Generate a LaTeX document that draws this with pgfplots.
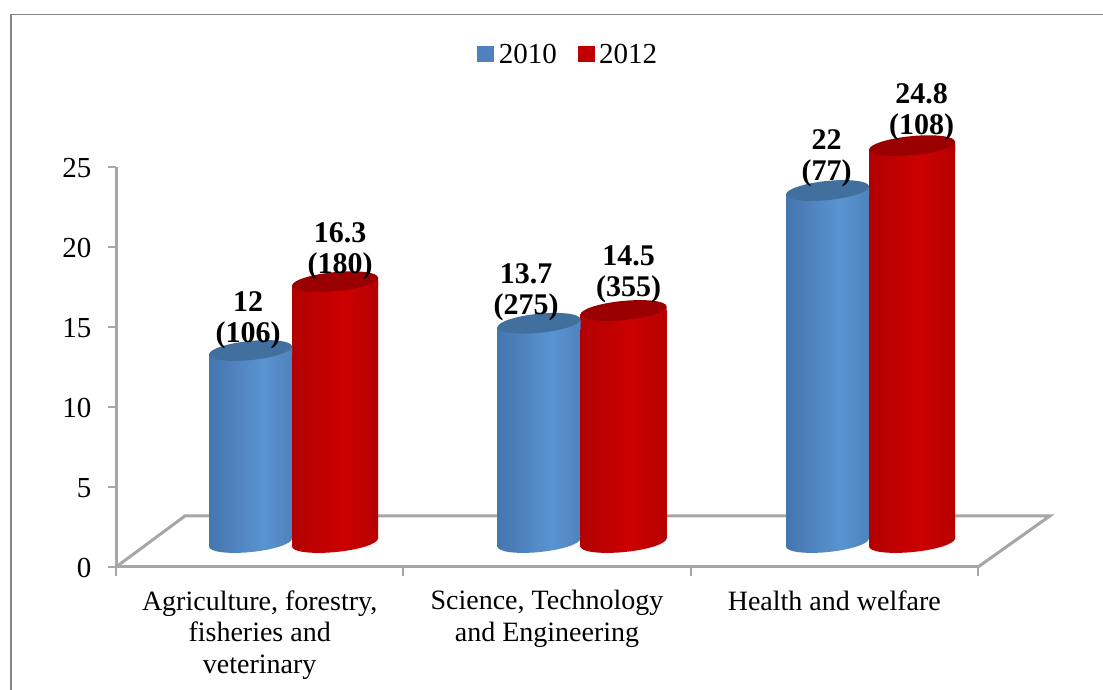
\documentclass[border=0pt]{standalone}
\usepackage{pgfplots}
\pgfplotsset{compat=1.18}
\usepackage{fontspec}
\setmainfont{Liberation Serif}
\definecolor{axgray}{HTML}{A6A6A6}
\definecolor{framegray}{HTML}{868686}
\definecolor{capblue}{HTML}{41709F}
\definecolor{capred}{HTML}{9A0000}
\definecolor{legblue}{HTML}{4F81BD}
\definecolor{legred}{HTML}{C00000}
\definecolor{b0}{HTML}{33598A}
\definecolor{b1}{HTML}{4373AB}
\definecolor{b2}{HTML}{5A93D2}
\definecolor{b3}{HTML}{4A7CB3}
\definecolor{b4}{HTML}{345C88}
\definecolor{r0}{HTML}{6A0000}
\definecolor{r1}{HTML}{AE0000}
\definecolor{r2}{HTML}{CC0000}
\definecolor{r3}{HTML}{B00000}
\definecolor{r4}{HTML}{680000}
\pgfdeclarehorizontalshading{bluecyl}{100bp}{color(0bp)=(b0); color(22bp)=(b1); color(58bp)=(b2); color(82bp)=(b3); color(100bp)=(b4)}
\pgfdeclarehorizontalshading{redcyl}{100bp}{color(0bp)=(r0); color(20bp)=(r1); color(55bp)=(r2); color(80bp)=(r3); color(100bp)=(r4)}
% cylinder ends. #1 left edge, #2 right edge relative to the data point
\newcommand{\cyltop}[3]{%
  \pgfsetfillcolor{white}%
  \pgfpathrectanglecorners{\pgfpoint{#1-1pt}{-4pt}}{\pgfpoint{#1+25pt}{1pt}}\pgfusepathqfill
  \pgfpathmoveto{\pgfpoint{#1}{-4pt}}\pgfpathlineto{\pgfpoint{#2}{4pt}}\pgfpathlineto{\pgfpoint{#2}{-6pt}}\pgfpathlineto{\pgfpoint{#1}{-6pt}}\pgfpathclose
  \pgfshadepath{#3cyl}{0}\pgfusepath{discard}%
  \pgfpathellipse{\pgfpoint{(#1+#2)/2}{0pt}}{\pgfpoint{(#2-#1)/2}{4pt}}{\pgfpoint{0pt}{9.6pt}}%
  \pgfsetfillcolor{cap#3}\pgfusepathqfill}
\newcommand{\cylbot}[3]{%
  \pgfsetfillcolor{white}%
  \pgfpathrectanglecorners{\pgfpoint{#2-25pt}{-1pt}}{\pgfpoint{#2+1pt}{4pt}}\pgfusepathqfill
  \pgfpathmoveto{\pgfpoint{#1}{-4pt}}\pgfpathlineto{\pgfpoint{#2}{4pt}}\pgfpathlineto{\pgfpoint{#2}{6pt}}\pgfpathlineto{\pgfpoint{#1}{6pt}}\pgfpathclose
  \pgfshadepath{#3cyl}{0}\pgfusepath{discard}%
  \pgfpathellipse{\pgfpoint{(#1+#2)/2}{0pt}}{\pgfpoint{(#2-#1)/2}{4pt}}{\pgfpoint{0pt}{9.6pt}}%
  \pgfshadepath{#3cyl}{0}\pgfusepath{discard}}
\pgfdeclareplotmark{bluetop}{\cyltop{-83pt}{0pt}{blue}}
\pgfdeclareplotmark{redtop}{\cyltop{0pt}{86pt}{red}}
\pgfdeclareplotmark{bluebot}{\cylbot{-83pt}{0pt}{blue}}
\pgfdeclareplotmark{redbot}{\cylbot{0pt}{86pt}{red}}
\pgfplotstableread{
x y   n   dx dy
0 12  106 -2.5 1
1 13.7 275 -13 2
2 22  77  -1 3.5
}\tblue
\pgfplotstableread{
x y   n   dx dy
0 16.3 180 5 1.5
1 14.5 355 5 7
2 24.8 108 9.5 4.7
}\tred
\pgfplotstableread{
x y
0 0
1 0
2 0
}\tbase
\begin{document}
\begin{tikzpicture}[x=1pt,y=1pt]
\path[use as bounding box] (0,0) rectangle (1103,690);
\draw[framegray,line width=1.5pt] (11,0) -- (11,675.5) -- (1103,675.5);
\begin{axis}[at={(116pt,123pt)},name=main,
  scale only axis,width=862pt,height=400pt,clip=false,
  xmin=-0.5,xmax=2.5,ymin=0,ymax=25,
  axis x line*=bottom,axis y line*=left,
  axis line style={axgray,line width=3pt,-},
  xtick={0,1,2},
  xticklabels={{Agriculture, forestry,\\fisheries and\\veterinary},{Science, Technology\\and Engineering},{Health and welfare}},
  xticklabel style={align=center,font=\fontsize{28}{31.5}\selectfont,anchor=north,yshift=-12pt},
  minor xtick={-0.5,0.5,1.5,2.5},
  ytick={0,5,10,15,20,25},
  yticklabel style={font=\fontsize{29}{32}\selectfont,xshift=-13pt,yshift=-1pt},
  /pgf/number format/assume math mode=true,
  major x tick style={draw=none},
  minor tick length=9pt,
  major y tick style={axgray,line width=2pt},
  minor x tick style={axgray,line width=2pt},
  major tick length=8pt,
  tick align=outside,
  legend columns=2,
  legend style={at={(0.5265,1.282)},anchor=center,draw=none,fill=none,
    font=\fontsize{29}{32}\selectfont,
    /tikz/every even column/.style={column sep=16pt},
    nodes={inner xsep=5pt}},
  legend image code/.code={\fill[#1] (0pt,-7.5pt) rectangle (16pt,7.5pt);},
]
\addplot[axgray,line width=3pt,forget plot] coordinates {(-0.5,0) (-0.26,3.19) (2.75,3.19) (2.5,0)};
\addlegendimage{legblue,fill=legblue}
\addlegendentry{2010}
\addlegendimage{legred,fill=legred}
\addlegendentry{2012}
\end{axis}
\begin{axis}[at={(147.75pt,147.5pt)},
  scale only axis,width=865.5pt,height=400pt,clip=false,hide axis,
  xmin=-0.5,xmax=2.5,ymin=0,ymax=25,
  /pgf/number format/assume math mode=true,
  bluebar/.style={ybar,bar width=83pt,bar shift=-41.5pt,draw=none,shade,shading=bluecyl},
  redbar/.style={ybar,bar width=86pt,bar shift=43pt,draw=none,shade,shading=redcyl},
  lab/.style={only marks,mark=none,point meta=explicit symbolic,
    visualization depends on={y \as \vy},
    visualization depends on={\thisrow{dx} \as \dx},
    visualization depends on={\thisrow{dy} \as \dy},
    nodes near coords={\pgfmathprintnumber{\vy}\\(\pgfplotspointmeta)},
    every node near coord/.style={anchor=south,align=center,inner sep=0pt,
      font=\bfseries\fontsize{30}{31}\selectfont,text=black,
      xshift=#1+\dx pt,yshift=\dy pt}},
]
\addplot[bluebar] coordinates {(0,12)};
\addplot[bluebar] coordinates {(1,13.7)};
\addplot[bluebar] coordinates {(2,22)};
\addplot[only marks,mark=bluebot] table[x=x,y=y] {\tbase};
\addplot[only marks,mark=bluetop] table[x=x,y=y] {\tblue};
\addplot[redbar] coordinates {(0,16.3)};
\addplot[redbar] coordinates {(1,14.5)};
\addplot[redbar] coordinates {(2,24.8)};
\addplot[only marks,mark=redbot] table[x=x,y=y] {\tbase};
\addplot[only marks,mark=redtop] table[x=x,y=y] {\tred};
\addplot[lab=-41.5pt] table[x=x,y=y,meta=n] {\tblue};
\addplot[lab=43pt] table[x=x,y=y,meta=n] {\tred};
\end{axis}
\end{tikzpicture}
\end{document}
